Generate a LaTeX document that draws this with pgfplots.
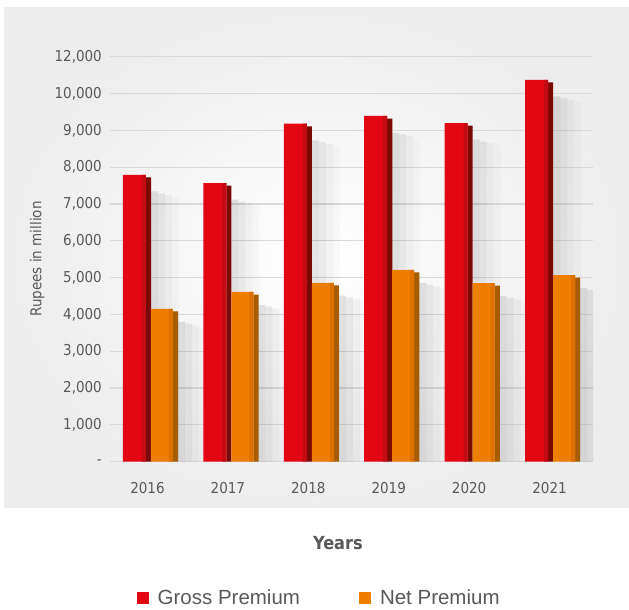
\documentclass[border=0pt]{standalone}
\usepackage{pgfplots}
\pgfplotsset{compat=1.18}
\usepackage{pgfplotstable}
\usepackage{fontspec}
\setmainfont{DejaVu Sans Condensed}
\newfontfamily\legfont{Liberation Sans}
\definecolor{txtgray}{HTML}{595959}
\definecolor{gridgray}{HTML}{D9D9D9}
\definecolor{panel}{HTML}{EDEDED}
\definecolor{grossA}{HTML}{E30613}
\definecolor{grossB}{HTML}{C40A12}
\definecolor{grossS}{HTML}{7A0A04}
\definecolor{netA}{HTML}{EE7E00}
\definecolor{netB}{HTML}{DC7000}
\definecolor{netS}{HTML}{A85C00}
\pgfplotstableread{
x year gross net
0 2016 7790 4150
1 2017 7565 4610
2 2018 9180 4860
3 2019 9390 5210
4 2020 9195 4850
5 2021 10370 5070
}\data
\begin{document}
\begin{tikzpicture}
\useasboundingbox (0,0) rectangle (629bp,610bp);
\shade[inner color=white, outer color=panel] (4bp,102bp) rectangle (629bp,602bp);
\begin{axis}[
  at={(110bp,148.3bp)}, anchor=south west,
  scale only axis, width=483bp, height=405bp,
  xmin=-0.466, xmax=5.54, ymin=0, ymax=11000,
  scaled y ticks=false,
  axis line style={draw=none},
  major tick length=0pt,
  ymajorgrids, grid style={color=gridgray, line width=1.2bp},
  xtick={0,1,2,3,4,5},
  xticklabels={2016,2017,2018,2019,2020,2021},
  ytick={0,1000,2000,3000,4000,5000,6000,7000,8000,9000,10000,11000},
  yticklabels={-,{1,000},{2,000},{3,000},{4,000},{5,000},{6,000},{7,000},{8,000},{9,000},{10,000},{12,000}},
  ticklabel style={font=\fontsize{15bp}{18bp}\selectfont, text=txtgray, inner sep=0pt},
  yticklabel style={anchor=east, xshift=-8bp},
  xticklabel style={anchor=north, yshift=-20bp},
  ylabel={Rupees in million},
  every axis y label/.style={at={(rel axis cs:-0.1505,0.5005)}, rotate=90, anchor=center, font=\fontsize{15bp}{18bp}\selectfont, text=txtgray},
  xlabel={Years},
  every axis x label/.style={at={(rel axis cs:0.472,-0.2007)}, anchor=center, font=\fontsize{18bp}{22bp}\selectfont\bfseries, text=txtgray},
  legend style={at={(rel axis cs:0.433,-0.337)}, anchor=center, draw=none, fill=none,
    legend columns=2, font=\legfont\fontsize{20.5bp}{24bp}\selectfont, text=txtgray,
    /tikz/every even column/.append style={column sep=57bp}},
  legend image code/.code={\fill[#1] (0bp,-6bp) rectangle (12bp,6bp); \path (19bp,0bp);},
]
% shadows (layered strips, fading to the right)
\addplot[ybar, forget plot, bar width=0.087, bar shift=0.087, draw=none, fill=black, fill opacity=0.10]
  table[x=x, y expr=\thisrow{gross}-450]{\data};
\addplot[ybar, forget plot, bar width=0.087, bar shift=0.174, draw=none, fill=black, fill opacity=0.075]
  table[x=x, y expr=\thisrow{gross}-500]{\data};
\addplot[ybar, forget plot, bar width=0.087, bar shift=0.261, draw=none, fill=black, fill opacity=0.045]
  table[x=x, y expr=\thisrow{gross}-550]{\data};
\addplot[ybar, forget plot, bar width=0.087, bar shift=0.348, draw=none, fill=black, fill opacity=0.02]
  table[x=x, y expr=\thisrow{gross}-600]{\data};
\addplot[ybar, forget plot, bar width=0.087, bar shift=0.423, draw=none, fill=black, fill opacity=0.10]
  table[x=x, y expr=\thisrow{net}-350]{\data};
\addplot[ybar, forget plot, bar width=0.087, bar shift=0.510, draw=none, fill=black, fill opacity=0.075]
  table[x=x, y expr=\thisrow{net}-400]{\data};
\addplot[ybar, forget plot, bar width=0.087, bar shift=0.597, draw=none, fill=black, fill opacity=0.045]
  table[x=x, y expr=\thisrow{net}-450]{\data};
\addplot[ybar, forget plot, bar width=0.087, bar shift=0.684, draw=none, fill=black, fill opacity=0.02]
  table[x=x, y expr=\thisrow{net}-500]{\data};
% side faces
\addplot[ybar, forget plot, bar width=0.064, bar shift=0.012, draw=none, fill=grossS]
  table[x=x, y expr=\thisrow{gross}-70]{\data};
\addplot[ybar, forget plot, bar width=0.064, bar shift=0.349, draw=none, fill=netS]
  table[x=x, y expr=\thisrow{net}-70]{\data};
% fronts
\addplot[ybar, bar width=0.286, bar shift=-0.162, draw=none, fill=grossA]
  table[x=x, y=gross]{\data};
\addlegendentry{Gross Premium}
\addplot[ybar, bar width=0.274, bar shift=0.18, draw=none, fill=netA]
  table[x=x, y=net]{\data};
\addlegendentry{Net Premium}
% darker right edge of the fronts
\addplot[ybar, forget plot, bar width=0.05, bar shift=-0.044, draw=none, fill=grossB]
  table[x=x, y=gross]{\data};
\addplot[ybar, forget plot, bar width=0.05, bar shift=0.292, draw=none, fill=netB]
  table[x=x, y=net]{\data};
\end{axis}
\end{tikzpicture}
\end{document}
